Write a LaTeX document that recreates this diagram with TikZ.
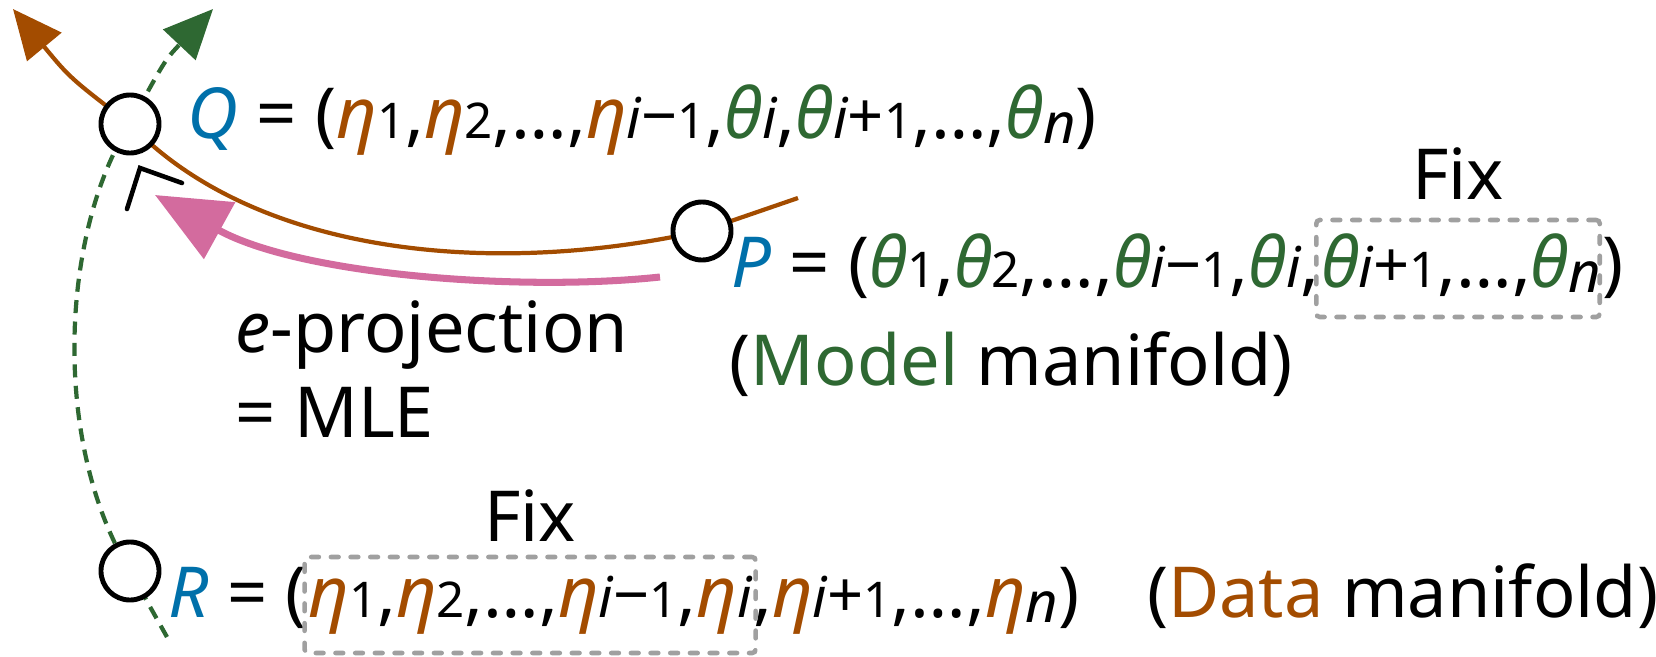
\documentclass[tikz,border=0pt]{standalone}
\usepackage{fontspec}
\setmainfont{Noto Sans}
\usepackage{tikz}
\usetikzlibrary{arrows.meta, positioning, fit, calc}

\definecolor{etacol}{RGB}{163,76,0}
\definecolor{thcol}{RGB}{46,104,50}
\definecolor{ptcol}{RGB}{0,112,170}
\definecolor{projcol}{RGB}{211,107,158}
\definecolor{boxcol}{RGB}{160,160,160}

\newcommand\hE{\textcolor{etacol}{\itshape η}}
\newcommand\hT{\textcolor{thcol}{\itshape θ}}
\newcommand\dsub[1]{{\fontsize{14}{14}\selectfont #1}}
\newcommand\isub[1]{{\fontsize{16}{16}\selectfont\itshape #1}}
\newcommand\osub[1]{{\fontsize{18}{18}\selectfont #1}}
\newcommand\nsub{\raisebox{-1.5pt}{\isub{n}}}

\begin{document}
\begin{tikzpicture}[x=0.01cm, y=-0.01cm,
  mpt/.style={circle, draw=black, line width=1.4pt, fill=white, minimum size=0.58cm, inner sep=0pt},
  dataarc/.style={draw=etacol, line width=1.2pt},
  modelarc/.style={draw=thcol, line width=1.2pt, dash pattern=on 3.7pt off 2.4pt},
  bigtip/.style={-{Triangle[length=14pt, width=12.5pt]}},
  proj/.style={draw=projcol, line width=2pt, -{Triangle[length=21pt, width=18pt]}},
  fixbox/.style={draw=boxcol, line width=1.3pt, line cap=round, dash pattern=on 2.2pt off 3.4pt,
                 rounded corners=1pt, inner sep=0pt},
  lbl/.style={font=\fontsize{20}{24}\selectfont, inner sep=0pt, anchor=base west}
]
  \useasboundingbox (0,0) rectangle (1656,657);

  % points on the manifolds
  \coordinate (cq) at (130,124);
  \coordinate (cp) at (702,231);
  \coordinate (cr) at (130,571);
  \coordinate (bt) at (13,9);
  \coordinate (be) at (798,198);
  \coordinate (gt) at (213,9);
  \coordinate (gb) at (167,637);
  \coordinate (pa) at (660,277);
  \coordinate (pz) at (155,195);

  % data manifold (brown) and model manifold (green)
  \draw[dataarc, bigtip] (be) -- (cp) .. controls (480,280) and (250,250) .. (cq)
        .. controls (70,78) .. (bt);
  \draw[modelarc, bigtip] (gb) -- (cr) .. controls (50,440) and (62,230) .. (cq)
        .. controls (165,60) .. (gt);

  % e-projection
  \draw[proj] (pa) .. controls (520,292) and (300,275) .. (pz);

  % right angle
  \draw[line width=1.3pt, line cap=round] ($(cq)+(-3,85)$) -- ($(cq)+(10,44)$) -- ($(cq)+(52,59)$);

  \node[mpt] (q) at (cq) {};
  \node[mpt] (p) at (cp) {};
  \node[mpt] (r) at (cr) {};

  % Q
  \node[lbl] (qtxt) at (187,138) {\textcolor{ptcol}{\itshape Q} = (\hE\dsub{1},\hE\dsub{2},…,\hE\isub{i}\osub{−}\dsub{1},\hT\isub{i},\hT\isub{i}\osub{+}\dsub{1},…,\hT\nsub)};

  % P
  \node[lbl] (ptxt) at (731,287) {\textcolor{ptcol}{\itshape P} = (\hT\dsub{1},\hT\dsub{2},…,\hT\isub{i}\osub{−}\dsub{1},\hT\isub{i},};
  \node[lbl] (pfix) at (ptxt.base east) {\hT\isub{i}\osub{+}\dsub{1},…,\hT\nsub};
  \node[lbl] (pend) at (pfix.base east) {)};
  \node[fixbox, fit={($(pfix.base west)+(-4,-67)$) ($(pfix.base east)+(-2,30)$)}] (pbox) {};
  \node[lbl, anchor=base] at ($(pbox.north)+(0,-18)$) {Fix};
  \node[lbl] (mman) at (729,385) {(\textcolor{thcol}{Model} manifold)};

  % projection label
  \node[lbl] (eproj) at (235,352) {{\itshape e}-projection};
  \node[lbl] (mle) at ($(eproj.base west)+(0,85)$) {= MLE};

  % R
  \node[lbl] (rtxt) at (168,617) {\textcolor{ptcol}{\itshape R} = (};
  \node[lbl] (rfix) at (rtxt.base east) {\hE\dsub{1},\hE\dsub{2},…,\hE\isub{i}\osub{−}\dsub{1},\hE\isub{i}};
  \node[lbl] (rrest) at (rfix.base east) {,\hE\isub{i}\osub{+}\dsub{1},…,\hE\nsub)};
  \node[fixbox, fit={($(rfix.base west)+(-3,-60)$) ($(rfix.base east)+(3,36)$)}] (rbox) {};
  \node[lbl, anchor=base] at ($(rbox.north)+(0,-13)$) {Fix};
  \node[lbl, right=0.66cm of rrest.base east, anchor=base west] (dman) {(\textcolor{etacol}{Data} manifold)};
\end{tikzpicture}
\end{document}
